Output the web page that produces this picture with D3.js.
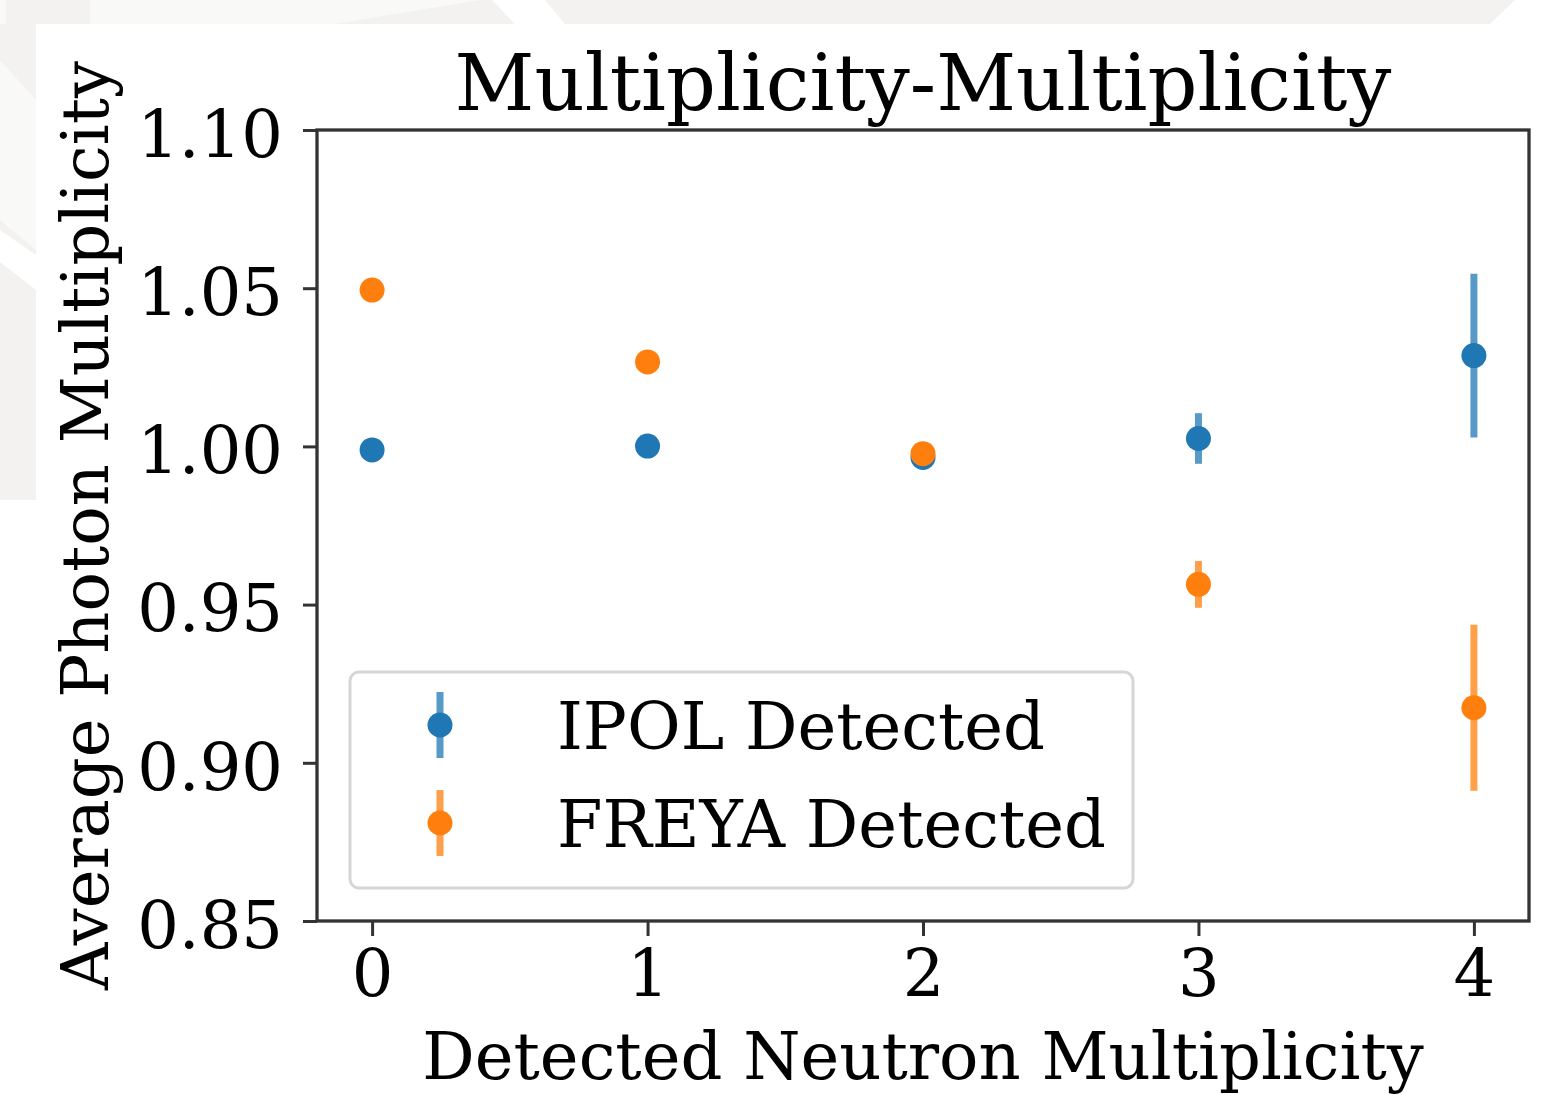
<!DOCTYPE html>
<html>
<head>
    <title>Multiplicity-Multiplicity</title>
    <script src="https://d3js.org/d3.v7.min.js"></script>
    <style type="text/css">
        html, body {
            margin: 0;
            padding: 0;
            background-color: #fff;
        }

        svg text {
            font-family: "DejaVu Serif", serif;
            fill: #000;
        }
    </style>
</head>
<body>

<div id="chart"></div>

<script type="text/javascript">
    // values
    const multiplicities = [0, 1, 2, 3, 4];
    const ipolMean = [0.9989, 1.0001, 0.9965, 1.0025, 1.0287];
    const ipolErr = [0.0008, 0.0008, 0.0010, 0.0080, 0.0259];
    const freyaMean = [1.0494, 1.0267, 0.9977, 0.9564, 0.9174];
    const freyaErr = [0.0008, 0.0008, 0.0012, 0.0074, 0.0262];
    const xTicks = [0, 1, 2, 3, 4];
    const yTicks = [0.85, 0.90, 0.95, 1.00, 1.05, 1.10];

    const series = [
        { name: "IPOL Detected", color: "#1f77b4", mean: ipolMean, err: ipolErr },
        { name: "FREYA Detected", color: "#ff7f0e", mean: freyaMean, err: freyaErr }
    ];

    const width = 1542, height = 1095;
    const plot = { left: 317, right: 1529, top: 130, bottom: 921 };
    const labelSize = 65.5; // tick, axis and legend text

    const svg = d3.select("#chart").append("svg")
        .attr("width", width)
        .attr("height", height);

    // faint page background behind the figure
    const bg = svg.append("g");
    bg.append("rect").attr("width", width).attr("height", height).attr("fill", "#fff");
    bg.append("rect").attr("width", width).attr("height", 24).attr("fill", "#f3f2f0");
    bg.append("rect").attr("width", 36).attr("height", 500).attr("fill", "#f3f2f0");
    const lightShapes = [
        [[90, 0], [480, 0], [335, 24], [90, 24]],
        [[0, 60], [36, 100], [36, 250], [0, 220]],
        [[0, 0], [6, 0], [6, 24], [0, 24]]
    ];
    const whiteShapes = [
        [[492, 0], [545, 0], [565, 24], [515, 24]],
        [[1515, 0], [1570, 0], [1545, 24], [1490, 24]],
        [[0, 230], [36, 255], [36, 290], [0, 262]]
    ];
    bg.selectAll(".light").data(lightShapes).join("polygon")
        .attr("points", d => d.map(p => p.join(",")).join(" "))
        .attr("fill", "#f9f9f7");
    bg.selectAll(".white").data(whiteShapes).join("polygon")
        .attr("points", d => d.map(p => p.join(",")).join(" "))
        .attr("fill", "#ffffff");
    bg.append("rect")
        .attr("x", 36).attr("y", 24)
        .attr("width", width - 36).attr("height", height - 24)
        .attr("fill", "#fff");

    const x = d3.scaleLinear().domain([-0.2, 4.2]).range([plot.left, plot.right]);
    const y = d3.scaleLinear().domain([0.85, 1.10]).range([plot.bottom, plot.top]);

    // axes
    const xAxis = d3.axisBottom(x)
        .tickValues(xTicks)
        .tickFormat(d3.format("d"))
        .tickSize(15)
        .tickPadding(12);
    const yAxis = d3.axisLeft(y)
        .tickValues(yTicks)
        .tickFormat(d3.format(".2f"))
        .tickSize(14)
        .tickPadding(20);

    const gx = svg.append("g")
        .attr("transform", `translate(0,${plot.bottom})`)
        .call(xAxis);
    const gy = svg.append("g")
        .attr("transform", `translate(${plot.left},0)`)
        .call(yAxis);

    [gx, gy].forEach(g => {
        g.select(".domain").remove();
        g.selectAll(".tick line").attr("stroke", "#333").attr("stroke-width", 3);
        g.selectAll(".tick text")
            .attr("font-family", "DejaVu Serif")
            .attr("font-size", labelSize)
            .attr("fill", "#000");
    });
    gx.selectAll(".tick text").attr("dy", "0.74em");
    gy.selectAll(".tick text").attr("dy", "0.40em");

    // error bars and points
    series.forEach(s => {
        const g = svg.append("g");
        g.selectAll("line")
            .data(multiplicities)
            .join("line")
            .attr("x1", d => x(d))
            .attr("x2", d => x(d))
            .attr("y1", (d, i) => y(s.mean[i] - s.err[i]))
            .attr("y2", (d, i) => y(s.mean[i] + s.err[i]))
            .attr("stroke", s.color)
            .attr("stroke-opacity", 0.75)
            .attr("stroke-width", 7);
        g.selectAll("circle")
            .data(multiplicities)
            .join("circle")
            .attr("cx", d => x(d))
            .attr("cy", (d, i) => y(s.mean[i]))
            .attr("r", 12.5)
            .attr("fill", s.color);
    });

    // frame
    svg.append("rect")
        .attr("x", plot.left)
        .attr("y", plot.top)
        .attr("width", plot.right - plot.left)
        .attr("height", plot.bottom - plot.top)
        .attr("fill", "none")
        .attr("stroke", "#333")
        .attr("stroke-width", 3.3);

    // legend
    const legend = svg.append("g");
    legend.append("rect")
        .attr("x", 350).attr("y", 672)
        .attr("width", 783).attr("height", 216)
        .attr("rx", 9)
        .attr("fill", "#fff")
        .attr("fill-opacity", 0.8)
        .attr("stroke", "#d6d6d6")
        .attr("stroke-width", 3);
    const item = legend.selectAll(".item")
        .data(series)
        .join("g")
        .attr("transform", (d, i) => `translate(0,${725 + i * 98})`);
    item.append("line")
        .attr("x1", 440).attr("x2", 440)
        .attr("y1", -33).attr("y2", 33)
        .attr("stroke", d => d.color)
        .attr("stroke-opacity", 0.75)
        .attr("stroke-width", 7);
    item.append("circle")
        .attr("cx", 440).attr("cy", 0)
        .attr("r", 12.5)
        .attr("fill", d => d.color);
    item.append("text")
        .attr("x", 557)
        .attr("y", 24)
        .attr("font-size", labelSize)
        .text(d => d.name);

    // labels
    svg.append("text")
        .attr("x", (plot.left + plot.right) / 2)
        .attr("y", 110)
        .attr("text-anchor", "middle")
        .attr("font-size", 78)
        .text("Multiplicity-Multiplicity");

    svg.append("text")
        .attr("x", (plot.left + plot.right) / 2)
        .attr("y", 1079)
        .attr("text-anchor", "middle")
        .attr("font-size", labelSize)
        .text("Detected Neutron Multiplicity");

    svg.append("text")
        .attr("transform", `translate(108,${(plot.top + plot.bottom) / 2}) rotate(-90)`)
        .attr("text-anchor", "middle")
        .attr("font-size", labelSize)
        .text("Average Photon Multiplicity");
</script>

</body>
</html>
